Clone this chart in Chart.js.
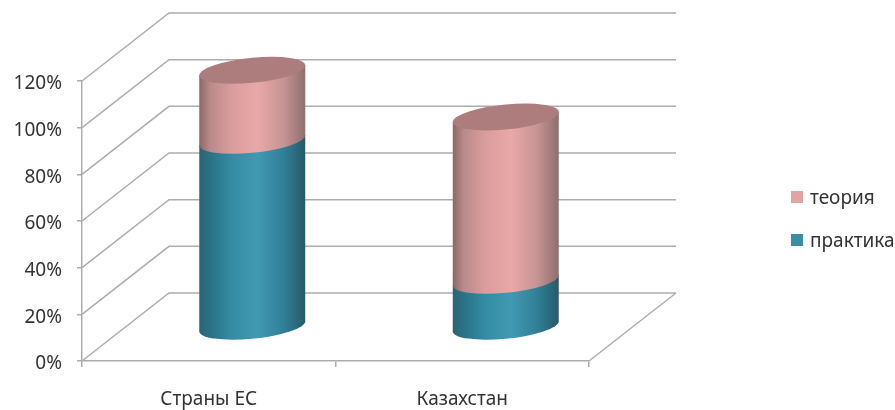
<!DOCTYPE html>
<html>
<head>
<meta charset="utf-8">
<style>
    html, body { margin: 0; padding: 0; background: #fff; }
    canvas { display: block; }
</style>
<script src="https://cdn.jsdelivr.net/npm/chart.js@4"></script>
</head>
<body>
<canvas id="chart" width="895" height="410"></canvas>
<script>
const categories = ['Страны ЕС', 'Казахстан'];
const praktika = [80, 20];
const teoria = [30, 70];

const fontFamily = '"Noto Sans", sans-serif';
const fontSize = 19;
const textColor = '#333333';
const gridColor = '#adadad';

// depth of the fake 3d box
const depthX = 87;
const depthY = -68;
// tilt and flatness of the cylinder ellipses
const tilt = 5 / 53;
const ellipseH = 12.5;

const tealStops = [[0, '#2a6474'], [0.1, '#2a7286'], [0.3, '#348ba3'], [0.55, '#4299b3'], [0.8, '#307f96'], [1, '#275a69']];
const pinkStops = [[0, '#8d6666'], [0.1, '#b98a8a'], [0.3, '#d99c9c'], [0.55, '#eaa8a8'], [0.8, '#c69393'], [1, '#8f6e6e']];

function makeGradient(ctx, r, stops) {
    const g = ctx.createLinearGradient(-r, 0, r, 0);
    stops.forEach(s => g.addColorStop(s[0], s[1]));
    return g;
}

function drawCylinders(chart, meta, stops, withCap) {
    const ctx = chart.ctx;
    meta.data.forEach(bar => {
        const r = bar.width / 2;
        ctx.save();
        ctx.translate(bar.x + depthX / 2, depthY / 2);
        ctx.transform(1, -tilt, 0, 1, 0, 0);
        ctx.beginPath();
        ctx.moveTo(-r, bar.base);
        ctx.lineTo(-r, bar.y);
        ctx.lineTo(r, bar.y);
        ctx.lineTo(r, bar.base);
        ctx.ellipse(0, bar.base, r, ellipseH, 0, 0, Math.PI);
        ctx.closePath();
        ctx.fillStyle = makeGradient(ctx, r, stops);
        ctx.fill();
        if (withCap) {
            ctx.beginPath();
            ctx.ellipse(0, bar.y, r, ellipseH, 0, 0, Math.PI * 2);
            ctx.fillStyle = '#ad7c7c';
            ctx.fill();
        }
        ctx.restore();
    });
}

const box3d = {
    id: 'box3d',
    beforeDatasetsDraw(chart) {
        const ctx = chart.ctx;
        const area = chart.chartArea;
        const y = chart.scales.y;
        ctx.save();
        ctx.strokeStyle = gridColor;
        ctx.lineWidth = 1.5;
        y.ticks.forEach(t => {
            const py = y.getPixelForValue(t.value);
            ctx.beginPath();
            ctx.moveTo(area.left, py);
            ctx.lineTo(area.left + depthX, py + depthY);
            ctx.lineTo(area.right + depthX, py + depthY);
            ctx.stroke();
        });
        ctx.beginPath();
        ctx.moveTo(area.right, area.bottom);
        ctx.lineTo(area.right + depthX, area.bottom + depthY);
        ctx.stroke();
        ctx.restore();
    },
    // the default flat bars are skipped, cylinders are painted bottom segment first
    beforeDatasetDraw() {
        return false;
    },
    afterDatasetsDraw(chart) {
        drawCylinders(chart, chart.getDatasetMeta(0), tealStops, false);
        drawCylinders(chart, chart.getDatasetMeta(1), pinkStops, true);
    },
    afterDraw(chart) {
        // legend sits far from the plot, teoria first
        const ctx = chart.ctx;
        const items = [[1, 191, '#e2a3a3'], [0, 234, '#3a8ea8']];
        ctx.save();
        ctx.font = fontSize + 'px ' + fontFamily;
        ctx.textBaseline = 'middle';
        items.forEach(it => {
            ctx.fillStyle = it[2];
            ctx.fillRect(791, it[1], 12, 12);
            ctx.fillStyle = textColor;
            ctx.fillText(chart.data.datasets[it[0]].label, 810, it[1] + 8);
        });
        ctx.restore();
    }
};

new Chart(document.getElementById('chart'), {
    type: 'bar',
    data: {
        labels: categories,
        datasets: [
            { label: 'практика', data: praktika, backgroundColor: '#3a8ea8' },
            { label: 'теория', data: teoria, backgroundColor: '#e8a6a6' }
        ]
    },
    options: {
        responsive: false,
        animation: false,
        barPercentage: 0.418,
        categoryPercentage: 1,
        layout: { padding: { top: 81, right: 306, left: 0, bottom: 0 } },
        plugins: { legend: { display: false }, tooltip: { enabled: false } },
        scales: {
            x: {
                stacked: true,
                afterFit: scale => { scale.height = 49; },
                border: { color: gridColor, width: 1.5 },
                grid: { drawOnChartArea: false, color: gridColor, lineWidth: 1.5, tickLength: 6 },
                ticks: { color: textColor, padding: 21, font: { family: fontFamily, size: fontSize }, maxRotation: 0 }
            },
            y: {
                stacked: true,
                min: 0,
                max: 120,
                afterFit: scale => { scale.width = 82; },
                border: { color: gridColor, width: 1.5 },
                grid: { drawOnChartArea: false, color: gridColor, lineWidth: 1.5, tickLength: 5 },
                ticks: {
                    stepSize: 20,
                    color: textColor,
                    padding: 15,
                    labelOffset: 3,
                    font: { family: fontFamily, size: fontSize },
                    callback: v => v + '%'
                }
            }
        }
    },
    plugins: [box3d]
});
</script>
</body>
</html>
